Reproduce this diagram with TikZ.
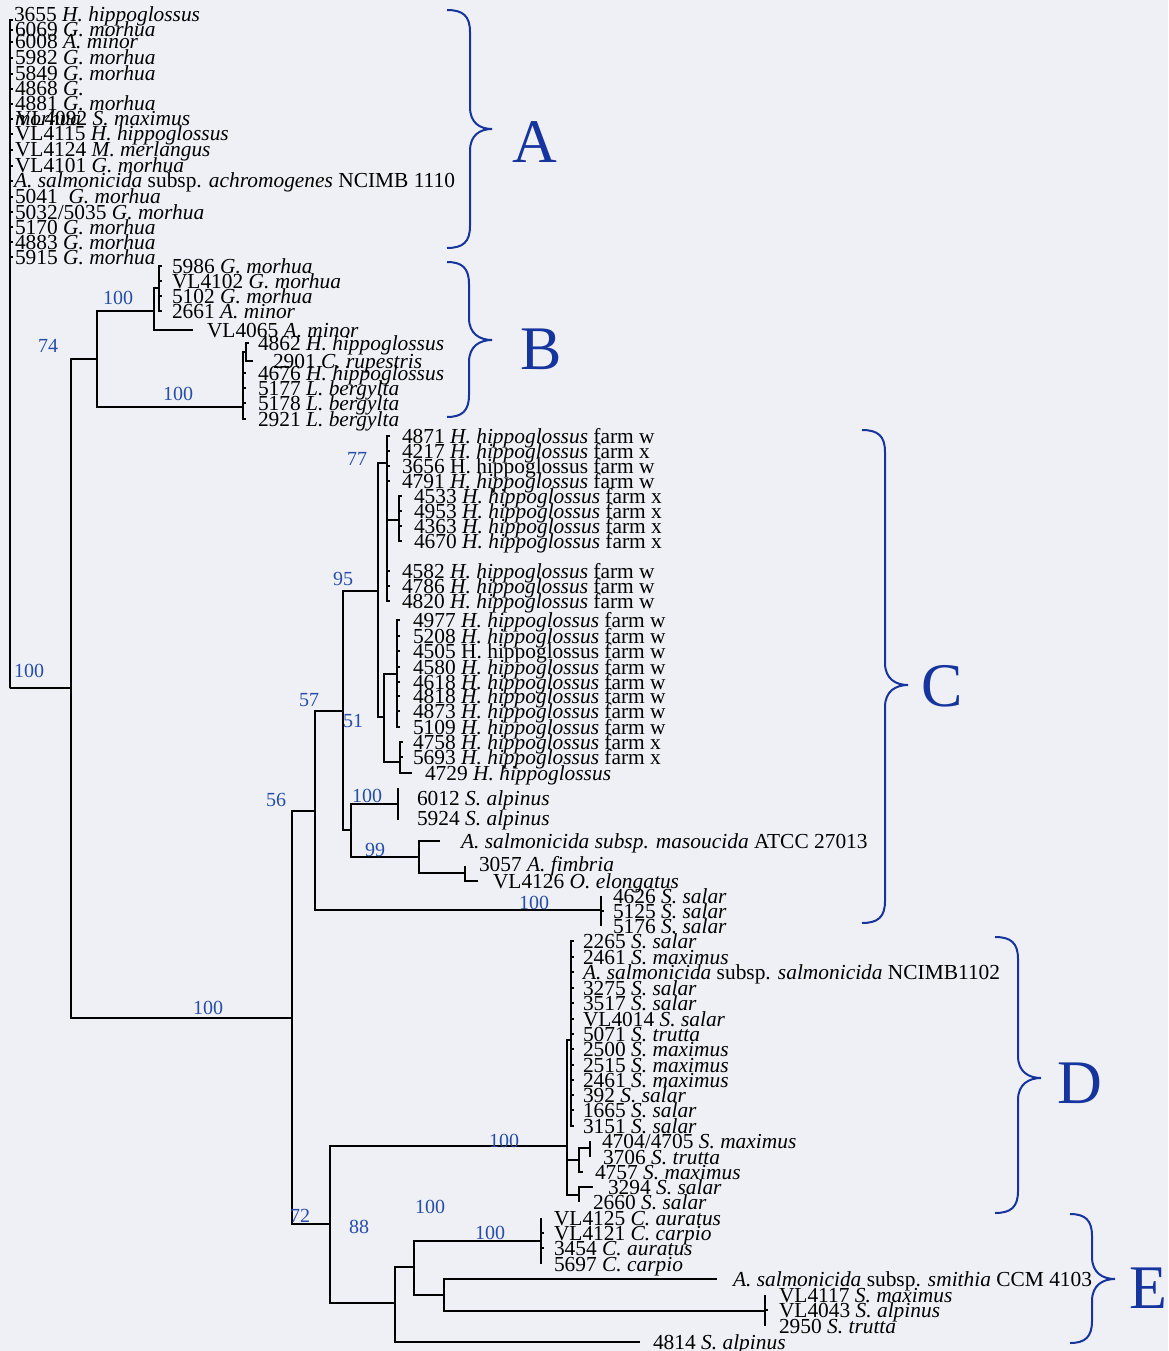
\documentclass[tikz,border=0pt]{standalone}
\usepackage{fontspec}
\setmainfont{Liberation Serif}
\definecolor{bgc}{RGB}{239,240,246}
\definecolor{supblue}{RGB}{38,78,168}
\definecolor{braceblue}{RGB}{22,52,158}
\newcommand\hh{\textit{H. hippoglossus}}
\newcommand\leafn[5]{\coordinate (#1) at (#2,#3); \node[leaf] (#1t) at (#4,#3+7) {#5};}
\newcommand\cbrace[6]{% x0 ytop ybot ymid xv xtip
  \draw[clbrace] (#1,#2) .. controls (#5-7,#2) and (#5,#2+6) .. (#5,#2+22)
    -- (#5,#4-22) .. controls (#5,#4-6) and (#6-12,#4) .. (#6,#4)
    .. controls (#6-12,#4) and (#5,#4+6) .. (#5,#4+22)
    -- (#5,#3-22) .. controls (#5,#3-6) and (#5-7,#3) .. (#1,#3);}
\tikzset{
  br/.style={line width=1.7pt},
  leaf/.style={anchor=base west, inner sep=0pt, outer sep=0pt, font=\fontsize{21.4}{21.4}\selectfont},
  supv/.style={text=supblue, inner sep=0pt, font=\fontsize{20}{20}\selectfont},
  clbrace/.style={draw=braceblue, line width=2pt},
  cladel/.style={text=braceblue, inner sep=0pt, font=\fontsize{62}{62}\selectfont},
}
\begin{document}
\begin{tikzpicture}[x=1pt,y=-1pt]
\useasboundingbox (0,0) rectangle (1168,1351);
\fill[bgc] (0,0) rectangle (1168,1351);

% ---------- internal nodes ----------
\coordinate (R) at (71,688);
\coordinate (nA) at (10,688);
\coordinate (nB) at (97,359);
\coordinate (nB1) at (154,311);
\coordinate (nB1a) at (159,288);
\coordinate (nB2) at (243,407);
\coordinate (nB2a) at (246,352);
\coordinate (nM) at (292,1018);
\coordinate (n57) at (315,811);
\coordinate (n95) at (343,711);
\coordinate (n77) at (378,591);
\coordinate (n77a) at (387,463);
\coordinate (n77b) at (399,520);
\coordinate (n51) at (384,717);
\coordinate (n51a) at (397,674);
\coordinate (n51b) at (400,762);
\coordinate (n100a) at (351,830);
\coordinate (n100b) at (398,804);
\coordinate (n99) at (419,857);
\coordinate (n99b) at (465,873);
\coordinate (nSal) at (601,910);
\coordinate (nDE) at (330,1224);
\coordinate (nD) at (567,1146);
\coordinate (nDa) at (571,1040);
\coordinate (nDb) at (579,1160);
\coordinate (nDb1) at (590,1148);
\coordinate (nDc) at (579,1195);
\coordinate (nE) at (395,1303);
\coordinate (nE1) at (414,1267);
\coordinate (nCarp) at (541,1241);
\coordinate (nE2) at (444,1295);
\coordinate (nE3) at (765,1311);

% ---------- leaves: cluster A ----------
\node[leaf] (a1t) at (14,22) {3655 \textit{H. hippoglossus}};
\coordinate (a1) at (13,20);
\leafn{a2}{13}{30}{15}{6069 \textit{G. morhua}}
\leafn{a3}{13}{42}{15}{6008 \textit{A. minor}}
\leafn{a4}{13}{58}{15}{5982 \textit{G. morhua}}
\leafn{a5}{13}{74}{15}{5849 \textit{G. morhua}}
\leafn{a6}{13}{89}{15}{4868 \textit{G.}}
\leafn{a7}{13}{104}{15}{4881 \textit{G. morhua}}
\leafn{a8}{13}{119}{16}{VL4092 \textit{S. maximus}}
\leafn{a9}{13}{134}{15}{VL4115 \textit{H. hippoglossus}}
\leafn{a10}{13}{150}{15}{VL4124 \textit{M. merlangus}}
\leafn{a11}{13}{166}{15}{VL4101 \textit{G. morhua}}
\leafn{a12}{13}{181}{14}{\textit{A. salmonicida} subsp. \textit{achromogenes} NCIMB 1110}
\leafn{a13}{13}{197}{15}{5041\ \ \textit{G. morhua}}
\leafn{a14}{13}{212}{15}{5032/5035 \textit{G. morhua}}
\leafn{a15}{13}{227}{15}{5170 \textit{G. morhua}}
\leafn{a16}{13}{242}{15}{4883 \textit{G. morhua}}
\leafn{a17}{13}{257}{15}{5915 \textit{G. morhua}}
\node[leaf] (a6w) at (15,126) {\textit{morhua}};

% ---------- cluster B ----------
\leafn{b1}{162}{266}{172}{5986 \textit{G. morhua}}
\leafn{b2}{162}{281}{172}{VL4102 \textit{G. morhua}}
\leafn{b3}{162}{296}{172}{5102 \textit{G. morhua}}
\leafn{b4}{162}{311}{172}{2661 \textit{A. minor}}
\leafn{b5}{193}{330}{207}{VL4065 \textit{A. minor}}
\leafn{b6}{249}{343}{258}{4862 \textit{H. hippoglossus}}
\leafn{b7}{253}{361}{273}{2901 \textit{C. rupestris}}
\leafn{b8}{246}{373}{258}{4676 \textit{H. hippoglossus}}
\leafn{b9}{246}{388}{258}{5177 \textit{L. bergylta}}
\leafn{b10}{246}{403}{258}{5178 \textit{L. bergylta}}
\leafn{b11}{246}{419}{258}{2921 \textit{L. bergylta}}

% ---------- cluster C ----------
\leafn{c1}{390}{436}{402}{4871 \hh{} farm w}
\leafn{c2}{390}{451}{402}{4217 \hh{} farm x}
\leafn{c3}{390}{466}{402}{3656 H. hippoglossus farm w}
\leafn{c4}{390}{481}{402}{4791 \hh{} farm w}
\leafn{c5}{402}{496}{414}{4533 \hh{} farm x}
\leafn{c6}{402}{511}{414}{4953 \hh{} farm x}
\leafn{c7}{402}{526}{414}{4363 \hh{} farm x}
\leafn{c8}{402}{541}{414}{4670 \hh{} farm x}
\leafn{c9}{390}{571}{402}{4582 \hh{} farm w}
\leafn{c10}{390}{586}{402}{4786 \hh{} farm w}
\leafn{c11}{390}{601}{402}{4820 \hh{} farm w}
\leafn{e1}{400}{620}{413}{4977 \hh{} farm w}
\leafn{e2}{400}{636}{413}{5208 \hh{} farm w}
\leafn{e3}{400}{651}{413}{4505 H. hippoglossus farm w}
\leafn{e4}{400}{667}{413}{4580 \hh{} farm w}
\leafn{e5}{400}{682}{413}{4618 \hh{} farm w}
\leafn{e6}{400}{696}{413}{4818 \hh{} farm w}
\leafn{e7}{400}{711}{413}{4873 \hh{} farm w}
\leafn{e8}{400}{727}{413}{5109 \hh{} farm w}
\leafn{f1}{403}{742}{413}{4758 \hh{} farm x}
\leafn{f2}{403}{757}{413}{5693 \hh{} farm x}
\leafn{f3}{412}{773}{425}{4729 \hh}
\node[leaf] (g1t) at (417,805) {6012 \textit{S. alpinus}};
\coordinate (g1) at (398,788);
\node[leaf] (g2t) at (417,825) {5924 \textit{S. alpinus}};
\coordinate (g2) at (398,820);
\leafn{g3}{440}{841}{461}{\textit{A. salmonicida subsp. masoucida} ATCC 27013}
\node[leaf] (g4t) at (479,871) {3057 \textit{A. fimbria}};
\coordinate (g4) at (465,866);
\leafn{g5}{478}{881}{493}{VL4126 \textit{O. elongatus}}
\leafn{h1}{601}{896}{613}{4626 \textit{S. salar}}
\leafn{h2}{604}{911}{613}{5125 \textit{S. salar}}
\leafn{h3}{601}{926}{613}{5176 \textit{S. salar}}

% ---------- cluster D ----------
\leafn{d1}{574}{941}{583}{2265 \textit{S. salar}}
\leafn{d2}{574}{957}{583}{2461 \textit{S. maximus}}
\leafn{d3}{574}{972}{583}{\textit{A. salmonicida} subsp. \textit{salmonicida} NCIMB1102}
\leafn{d4}{574}{988}{583}{3275 \textit{S. salar}}
\leafn{d5}{574}{1003}{583}{3517 \textit{S. salar}}
\leafn{d6}{574}{1019}{583}{VL4014 \textit{S. salar}}
\leafn{d7}{574}{1034}{583}{5071 \textit{S. trutta}}
\leafn{d8}{574}{1049}{583}{2500 \textit{S. maximus}}
\leafn{d9}{574}{1065}{583}{2515 \textit{S. maximus}}
\leafn{d10}{574}{1080}{583}{2461 \textit{S. maximus}}
\leafn{d11}{574}{1095}{583}{392 \textit{S. salar}}
\leafn{d12}{574}{1110}{583}{1665 \textit{S. salar}}
\leafn{d13}{574}{1126}{583}{3151 \textit{S. salar}}
\leafn{d14}{590}{1141}{602}{4704/4705 \textit{S. maximus}}
\leafn{d15}{590}{1157}{603}{3706 \textit{S. trutta}}
\leafn{d16}{583}{1172}{595}{4757 \textit{S. maximus}}
\leafn{d17}{593}{1187}{608}{3294 \textit{S. salar}}
\leafn{d18}{579}{1202}{593}{2660 \textit{S. salar}}

% ---------- cluster E ----------
\leafn{k1}{541}{1218}{554}{VL4125 \textit{C. auratus}}
\leafn{k2}{544}{1233}{554}{VL4121 \textit{C. carpio}}
\leafn{k3}{544}{1248}{554}{3454 \textit{C. auratus}}
\leafn{k4}{541}{1264}{554}{5697 \textit{C. carpio}}
\leafn{k5}{717}{1279}{733}{\textit{A. salmonicida} subsp. \textit{smithia} CCM 4103}
\leafn{k6}{765}{1295}{779}{VL4117 \textit{S. maximus}}
\leafn{k7}{768}{1310}{779}{VL4043 \textit{S. alpinus}}
\leafn{k8}{765}{1326}{779}{2950 \textit{S. trutta}}
\leafn{k9}{640}{1342}{653}{4814 \textit{S. alpinus}}

% ---------- branches ----------
\draw[br] (R) -- (nA);
\draw[br] (R) |- (nB);
\draw[br] (R) |- (nM);
\foreach \i in {1,...,17} \draw[br] (nA) |- (a\i);
\draw[br] (nB) |- (nB1);
\draw[br] (nB) |- (nB2);
\draw[br] (nB1) |- (nB1a);
\draw[br] (nB1) |- (b5);
\foreach \i in {1,...,4} \draw[br] (nB1a) |- (b\i);
\draw[br] (nB2) |- (nB2a);
\draw[br] (nB2a) |- (b6);
\draw[br] (nB2a) |- (b7);
\foreach \i in {8,...,11} \draw[br] (nB2) |- (b\i);

\draw[br] (nM) |- (n57);
\draw[br] (nM) |- (nDE);
\draw[br] (n57) |- (n95);
\draw[br] (n57) |- (nSal);
\draw[br] (n95) |- (n77);
\draw[br] (n95) |- (n100a);
\draw[br] (n77) |- (n77a);
\draw[br] (n77) |- (n51);
\foreach \i in {1,2,3,4,9,10,11} \draw[br] (n77a) |- (c\i);
\draw[br] (n77a) |- (n77b);
\foreach \i in {5,...,8} \draw[br] (n77b) |- (c\i);
\draw[br] (n51) |- (n51a);
\draw[br] (n51) |- (n51b);
\foreach \i in {1,...,8} \draw[br] (n51a) |- (e\i);
\foreach \i in {1,2,3} \draw[br] (n51b) |- (f\i);
\draw[br] (n100a) |- (n100b);
\draw[br] (n100a) |- (n99);
\draw[br] (n100b) |- (g1);
\draw[br] (n100b) |- (g2);
\draw[br] (n99) |- (g3);
\draw[br] (n99) |- (n99b);
\draw[br] (n99b) |- (g4);
\draw[br] (n99b) |- (g5);
\foreach \i in {1,2,3} \draw[br] (nSal) |- (h\i);

\draw[br] (nDE) |- (nD);
\draw[br] (nDE) |- (nE);
\draw[br] (nD) |- (nDa);
\foreach \i in {1,...,13} \draw[br] (nDa) |- (d\i);
\draw[br] (nD) |- (nDb);
\draw[br] (nD) |- (nDc);
\draw[br] (nDb) |- (nDb1);
\draw[br] (nDb1) |- (d14);
\draw[br] (nDb1) |- (d15);
\draw[br] (nDb) |- (d16);
\draw[br] (nDc) |- (d17);
\draw[br] (nDc) |- (d18);

\draw[br] (nE) |- (nE1);
\draw[br] (nE) |- (k9);
\draw[br] (nE1) |- (nCarp);
\draw[br] (nE1) |- (nE2);
\foreach \i in {1,...,4} \draw[br] (nCarp) |- (k\i);
\draw[br] (nE2) |- (k5);
\draw[br] (nE2) |- (nE3);
\foreach \i in {6,7,8} \draw[br] (nE3) |- (k\i);

% ---------- support values ----------
\node[supv] (s1) at (29,671) {100};
\node[supv] (s2) at (48,346) {74};
\node[supv] (s3) at (118,298) {100};
\node[supv] (s4) at (178,394) {100};
\node[supv] (s5) at (357,459) {77};
\node[supv] (s6) at (343,579) {95};
\node[supv] (s7) at (309,700) {57};
\node[supv] (s8) at (353,721) {51};
\node[supv] (s9) at (276,800) {56};
\node[supv] (s10) at (367,796) {100};
\node[supv] (s11) at (375,850) {99};
\node[supv] (s12) at (534,903) {100};
\node[supv] (s13) at (208,1008) {100};
\node[supv] (s14) at (504,1141) {100};
\node[supv] (s15) at (300,1216) {72};
\node[supv] (s16) at (359,1227) {88};
\node[supv] (s17) at (430,1207) {100};
\node[supv] (s18) at (490,1233) {100};

% ---------- clade braces ----------
\cbrace{447}{10}{248}{129}{470}{492}
\cbrace{447}{262}{417}{340}{469}{492}
\cbrace{862}{430}{923}{685}{885}{908}
\cbrace{995}{937}{1213}{1078}{1018}{1041}
\cbrace{1070}{1214}{1343}{1279}{1092}{1115}
\node[cladel] (LA) at (535,142) {A};
\node[cladel] (LB) at (541,349) {B};
\node[cladel] (LC) at (942,686) {C};
\node[cladel] (LD) at (1080,1083) {D};
\node[cladel] (LE) at (1148,1288) {E};
\end{tikzpicture}
\end{document}
